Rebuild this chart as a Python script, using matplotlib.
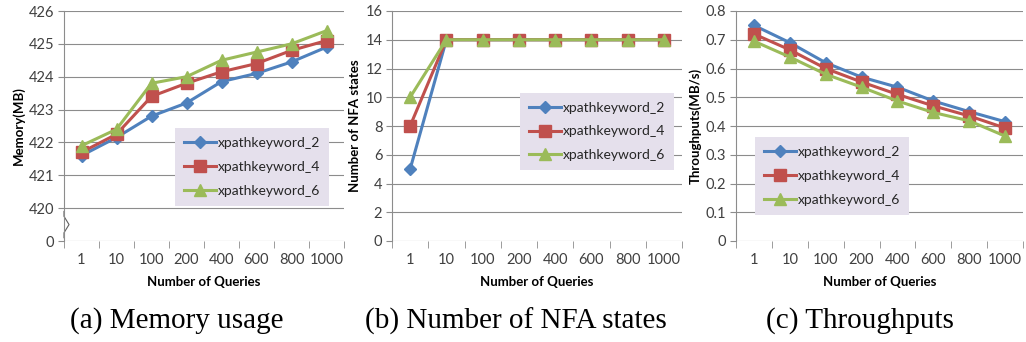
import matplotlib
matplotlib.use("Agg")
import matplotlib.pyplot as plt
import numpy as np

queries = ["1", "10", "100", "200", "400", "600", "800", "1000"]
series_names = ["xpathkeyword_2", "xpathkeyword_4", "xpathkeyword_6"]

memory_2 = [421.6, 422.15, 422.8, 423.2, 423.85, 424.1, 424.45, 424.9]
memory_4 = [421.7, 422.25, 423.4, 423.8, 424.15, 424.4, 424.8, 425.1]
memory_6 = [421.9, 422.4, 423.8, 424.0, 424.5, 424.75, 425.0, 425.4]

nfa_2 = [5, 14, 14, 14, 14, 14, 14, 14]
nfa_4 = [8, 14, 14, 14, 14, 14, 14, 14]
nfa_6 = [10, 14, 14, 14, 14, 14, 14, 14]

thr_2 = [0.75, 0.69, 0.62, 0.57, 0.535, 0.487, 0.45, 0.415]
thr_4 = [0.72, 0.665, 0.60, 0.553, 0.51, 0.47, 0.435, 0.393]
thr_6 = [0.695, 0.64, 0.58, 0.535, 0.487, 0.447, 0.418, 0.365]

mem_ticks = [419, 420, 421, 422, 423, 424, 425, 426]
mem_ticklabels = ["0", "420", "421", "422", "423", "424", "425", "426"]
nfa_ticks = [0, 2, 4, 6, 8, 10, 12, 14, 16]
thr_ticks = [0, 0.1, 0.2, 0.3, 0.4, 0.5, 0.6, 0.7, 0.8]
thr_ticklabels = ["0", "0.1", "0.2", "0.3", "0.4", "0.5", "0.6", "0.7", "0.8"]

colors = ["#4F81BD", "#C0504D", "#9BBB59"]
markers = ["D", "s", "^"]
msizes = [6, 8, 8.5]

W, H = 1026, 342
fig = plt.figure(figsize=(W / 100, H / 100), dpi=100)
plt.rcParams['font.family'] = ['Lato', 'DejaVu Sans']

grid_c = "#8c8c8c"
tick_c = "#404040"


def make_axes(left, right, top, bottom):
    return fig.add_axes([left / W, (H - bottom) / H, (right - left) / W, (bottom - top) / H])


def style(ax, ylabel, ticks, ticklabels, ylim):
    x = np.arange(len(queries))
    ax.set_xlim(-0.5, len(queries) - 0.5)
    ax.set_ylim(*ylim)
    ax.set_xticks(x)
    ax.set_xticklabels(queries, fontsize=10.5, color=tick_c)
    ax.set_xticks(np.arange(-0.5, len(queries)), minor=True)
    ax.tick_params(axis='x', which='major', length=0, pad=9)
    ax.tick_params(axis='x', which='minor', length=5, color=grid_c, direction='out')
    ax.set_yticks(ticks)
    ax.set_yticklabels(ticklabels, fontsize=10.5, color=tick_c)
    ax.tick_params(axis='y', length=4, color=grid_c, direction='out', pad=3)
    for s in ["top", "right", "bottom"]:
        ax.spines[s].set_visible(False)
    ax.spines["left"].set_color(grid_c)
    ax.spines["left"].set_linewidth(0.8)
    ax.yaxis.grid(True, color=grid_c, linewidth=0.8)
    ax.set_axisbelow(True)
    ax.set_xlabel("Number of Queries", fontsize=9.5, fontweight='bold', labelpad=6)
    ax.set_ylabel(ylabel, fontsize=9.5, fontweight='bold', labelpad=3)


def plot_series(ax, data_list):
    x = np.arange(len(queries))
    for d, c, m, ms, name in zip(data_list, colors, markers, msizes, series_names):
        ax.plot(x, d, color=c, marker=m, markersize=ms, linewidth=2.2, label=name,
                markeredgecolor=c)


def legend(ax, x0, top):
    leg = ax.legend(loc='upper left', bbox_to_anchor=(x0, top), fontsize=10,
                    frameon=True, fancybox=False, handlelength=2.3, handletextpad=0.15,
                    labelspacing=0.85, borderpad=0.65, borderaxespad=0)
    leg.get_frame().set_facecolor("#e5e0ec")
    leg.get_frame().set_edgecolor("none")
    leg.get_frame().set_alpha(1)
    for t in leg.get_texts():
        t.set_color("#262626")


# Panel (a)
ax1 = make_axes(64, 344, 11, 241)
plot_series(ax1, [memory_2, memory_4, memory_6])
style(ax1, "Memory(MB)", mem_ticks, mem_ticklabels, (419, 426))
legend(ax1, 0.396, 0.49)
# axis break zigzag on the left spine
ax1.plot([0, 0, 0.018, 0, 0], [419.1, 419.25, 419.5, 419.75, 419.9], transform=ax1.get_yaxis_transform(),
         color="#606060", linewidth=0.8, clip_on=False)
ax1.plot([0, 0], [419.25, 419.75], transform=ax1.get_yaxis_transform(), color="white",
         linewidth=1.5, clip_on=False, zorder=0)

# Panel (b)
ax2 = make_axes(392, 682, 11, 241)
plot_series(ax2, [nfa_2, nfa_4, nfa_6])
style(ax2, "Number of NFA states", nfa_ticks, [str(t) for t in nfa_ticks], (0, 16))
legend(ax2, 0.441, 0.645)

# Panel (c)
ax3 = make_axes(736, 1023, 11, 241)
plot_series(ax3, [thr_2, thr_4, thr_6])
style(ax3, "Throughputs(MB/s)", thr_ticks, thr_ticklabels, (0, 0.8))
legend(ax3, 0.066, 0.452)

cap_font = ['Liberation Serif']
fig.text(177 / W, 1 - 321 / H, "(a) Memory usage", ha='center', va='center', fontsize=21, family=cap_font)
fig.text(516 / W, 1 - 321 / H, "(b) Number of NFA states", ha='center', va='center', fontsize=21, family=cap_font)
fig.text(860 / W, 1 - 321 / H, "(c) Throughputs", ha='center', va='center', fontsize=21, family=cap_font)

fig.savefig("out.png", dpi=100)
